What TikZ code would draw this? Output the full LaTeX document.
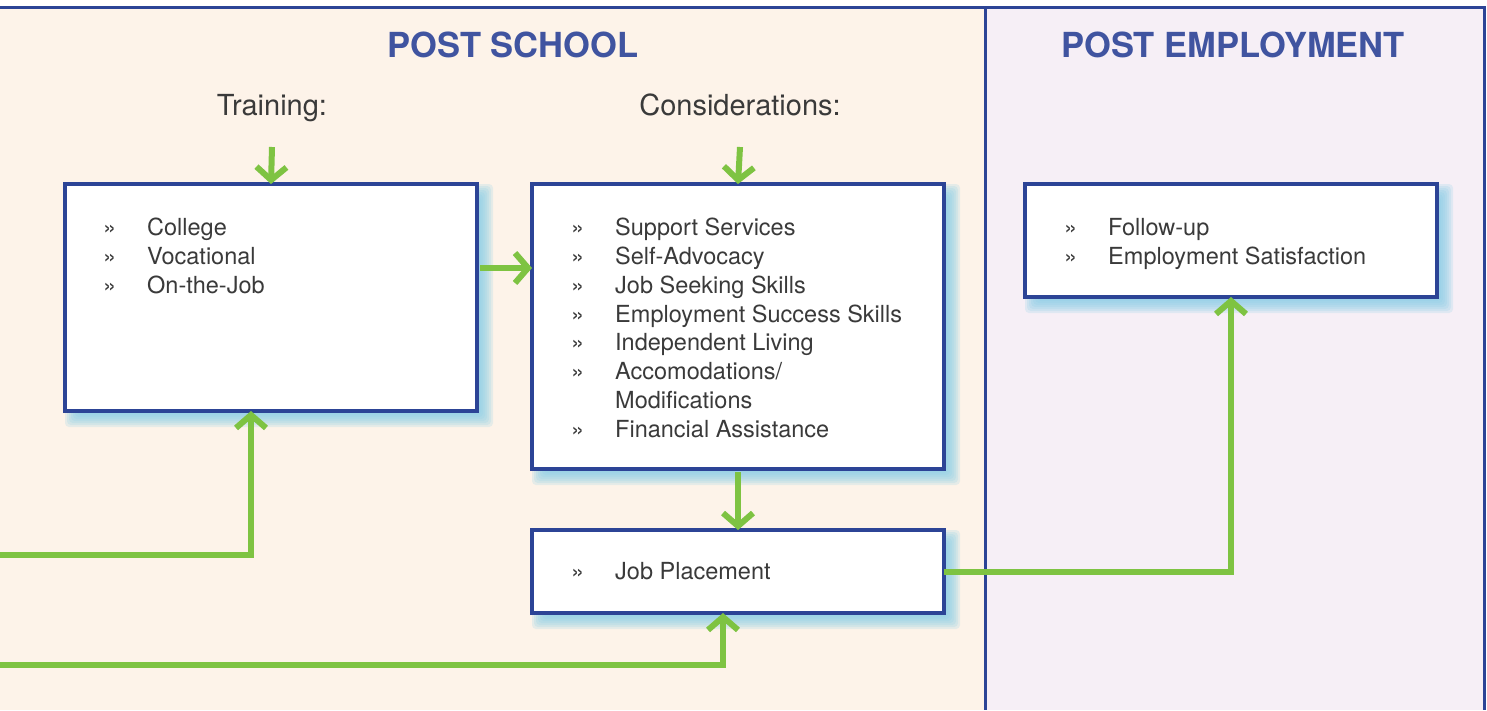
\documentclass[tikz,border=0pt]{standalone}
\usepackage{fontspec}
\setmainfont{TeX Gyre Heros}
\usetikzlibrary{positioning,arrows.meta,calc}
\definecolor{frameblue}{RGB}{44,68,150}
\definecolor{titleblue}{RGB}{64,84,160}
\definecolor{arrowgreen}{RGB}{126,195,66}
\definecolor{schoolbg}{RGB}{253,243,233}
\definecolor{employbg}{RGB}{246,239,246}
\definecolor{glowblue}{RGB}{135,205,230}
\definecolor{txtgray}{RGB}{58,58,58}
\pgfdeclarelayer{panel}
\pgfdeclarelayer{glow}
\pgfsetlayers{panel,glow,main}
\newcommand{\itm}{\makebox[44pt][l]{»}}
\newcommand{\cont}{\hspace*{44pt}}
\begin{document}
\begin{tikzpicture}[x=1pt,y=-1pt,
    box/.style={draw=frameblue, line width=3.4pt, fill=white, anchor=north west,
        inner sep=0pt, outer sep=0pt},
    list/.style={inner sep=0pt, anchor=north west, align=left, text=txtgray,
        font=\fontsize{23.5}{28.8}\selectfont},
    title/.style={anchor=base, text=titleblue, font=\bfseries\fontsize{34.5}{40}\selectfont},
    lbl/.style={anchor=base, text=txtgray, font=\fontsize{29}{34}\selectfont},
    arr/.style={draw=arrowgreen, line width=6pt, -{Straight Barb[length=13pt,width=30pt]}}]
    \useasboundingbox (0,0) rectangle (1487,710);
    % panels
    \begin{pgfonlayer}{panel}
    \fill[schoolbg] (0,7) rectangle (985,710);
    \fill[employbg] (985,7) rectangle (1484,710);
    \draw[frameblue, line width=3pt] (0,7) -- (1484,7) -- (1484,710);
    \draw[frameblue, line width=3pt] (985,7) -- (985,710);
    \end{pgfonlayer}
    \node[title] (school) at (513,57) {POST SCHOOL};
    \node[title] (employ) at (1233,57) {POST EMPLOYMENT};
    \node[lbl] (trlbl) at (272,115) {Training:};
    \node[lbl] (cslbl) at (740,115) {Considerations:};
    % boxes
    \node[box, minimum width=412pt, minimum height=227pt] (tr) at (65,184) {};
    \node[box, minimum width=412pt, minimum height=285pt] (cs) at (532,184) {};
    \node[box, minimum width=412pt, minimum height=113pt] (pe) at (1025,184) {};
    \node[box, minimum width=412pt, minimum height=83pt] (jp) at (532,530) {};
    \node[list, below right=34pt and 38pt of tr.north west] (trlist)
        {\itm College\\ \itm Vocational\\ \itm On-the-Job};
    \node[list, below right=34pt and 39pt of cs.north west] (cslist)
        {\itm Support Services\\ \itm Self-Advocacy\\ \itm Job Seeking Skills\\
         \itm Employment Success Skills\\ \itm Independent Living\\
         \itm Accomodations/\\ \cont Modifications\\ \itm Financial Assistance};
    \node[list, below right=34pt and 39pt of pe.north west] (pelist)
        {\itm Follow-up\\ \itm Employment Satisfaction};
    \node[list, anchor=west, right=39pt of jp.west] (jplist) {\itm Job Placement};
    % glow behind the boxes
    \begin{pgfonlayer}{glow}
    \foreach \n in {tr,cs,pe,jp}
      \foreach \e in {-10,-8,...,8}
        \fill[glowblue, fill opacity=0.2, rounded corners=4pt]
          ($(\n.north west)+(8-\e,8-\e)$) rectangle ($(\n.south east)+(8+\e,8+\e)$);
    \end{pgfonlayer}
    % connectors
    \coordinate (inA) at (0,555);
    \coordinate (inB) at (0,665);
    \draw[arr] ([yshift=-32pt]trlbl.base) -- (tr.north);
    \draw[arr] ([yshift=-32pt]cslbl.base) -- (cs.north);
    \draw[arr, shorten <=3pt] ([yshift=29.5pt]tr.east) -- ([yshift=29.5pt]tr.east -| cs.west);
    \draw[arr, shorten <=3pt] (cs.south) -- (jp.north);
    \draw[arr] (inA) -| ([xshift=-20pt]tr.south);
    \draw[arr] (inB) -| ([xshift=-15pt]jp.south);
    \draw[arr] (jp.east) -| (pe.south);
\end{tikzpicture}
\end{document}
